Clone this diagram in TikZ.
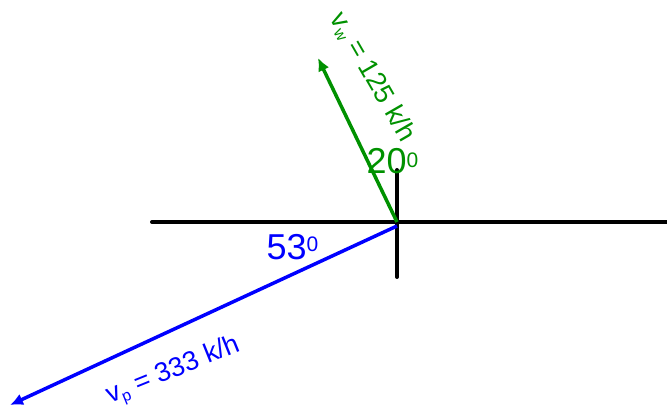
\documentclass[tikz,border=0pt]{standalone}
\usepackage{fontspec}
\setmainfont{Liberation Sans}
\usetikzlibrary{arrows.meta}
\definecolor{vgreen}{RGB}{0,145,0}
\definecolor{vblue}{RGB}{0,0,255}
\begin{document}
\begin{tikzpicture}[x=1pt,y=-1pt,
  axis/.style={line width=4pt,black,line cap=round},
  vec/.style={line width=3.5pt,-{Latex[length=13pt,width=12pt]}},
  lbl/.style={inner sep=0pt,anchor=base,font=\fontsize{27}{30}\selectfont},
  ang/.style={inner sep=0pt,anchor=base west,font=\fontsize{36}{40}\selectfont}]
\useasboundingbox (0,0) rectangle (667,406);
\coordinate (O) at (397,222);
\coordinate (hl) at (152,222);
\coordinate (hr) at (669,222);
\coordinate (vt) at (397,170);
\coordinate (vb) at (397,277);
\coordinate (wtip) at (318,58);
\coordinate (pstart) at (397,226);
\coordinate (ptip) at (10,405);
\draw[axis] (hl) -- (hr);
\draw[axis] (vt) -- (vb);
\draw[vec,vgreen] (O) -- (wtip);
\draw[vec,vblue] (pstart) -- (ptip);
\node[lbl,vgreen,rotate=-60] (wl) at (366,81) {v\raisebox{-4pt}{\fontsize{16}{18}\selectfont w} = 125 k/h};
\node[lbl,vblue,rotate=22] (pl) at (176,377) {v\raisebox{-4pt}{\fontsize{16}{18}\selectfont p} = 333 k/h};
\node[ang,vgreen] (a20) at (366.5,174) {20\raisebox{6pt}{\fontsize{21}{24}\selectfont 0}};
\node[ang,vblue] (a53) at (266.5,260) {53\raisebox{8pt}{\fontsize{21}{24}\selectfont 0}};
\end{tikzpicture}
\end{document}
